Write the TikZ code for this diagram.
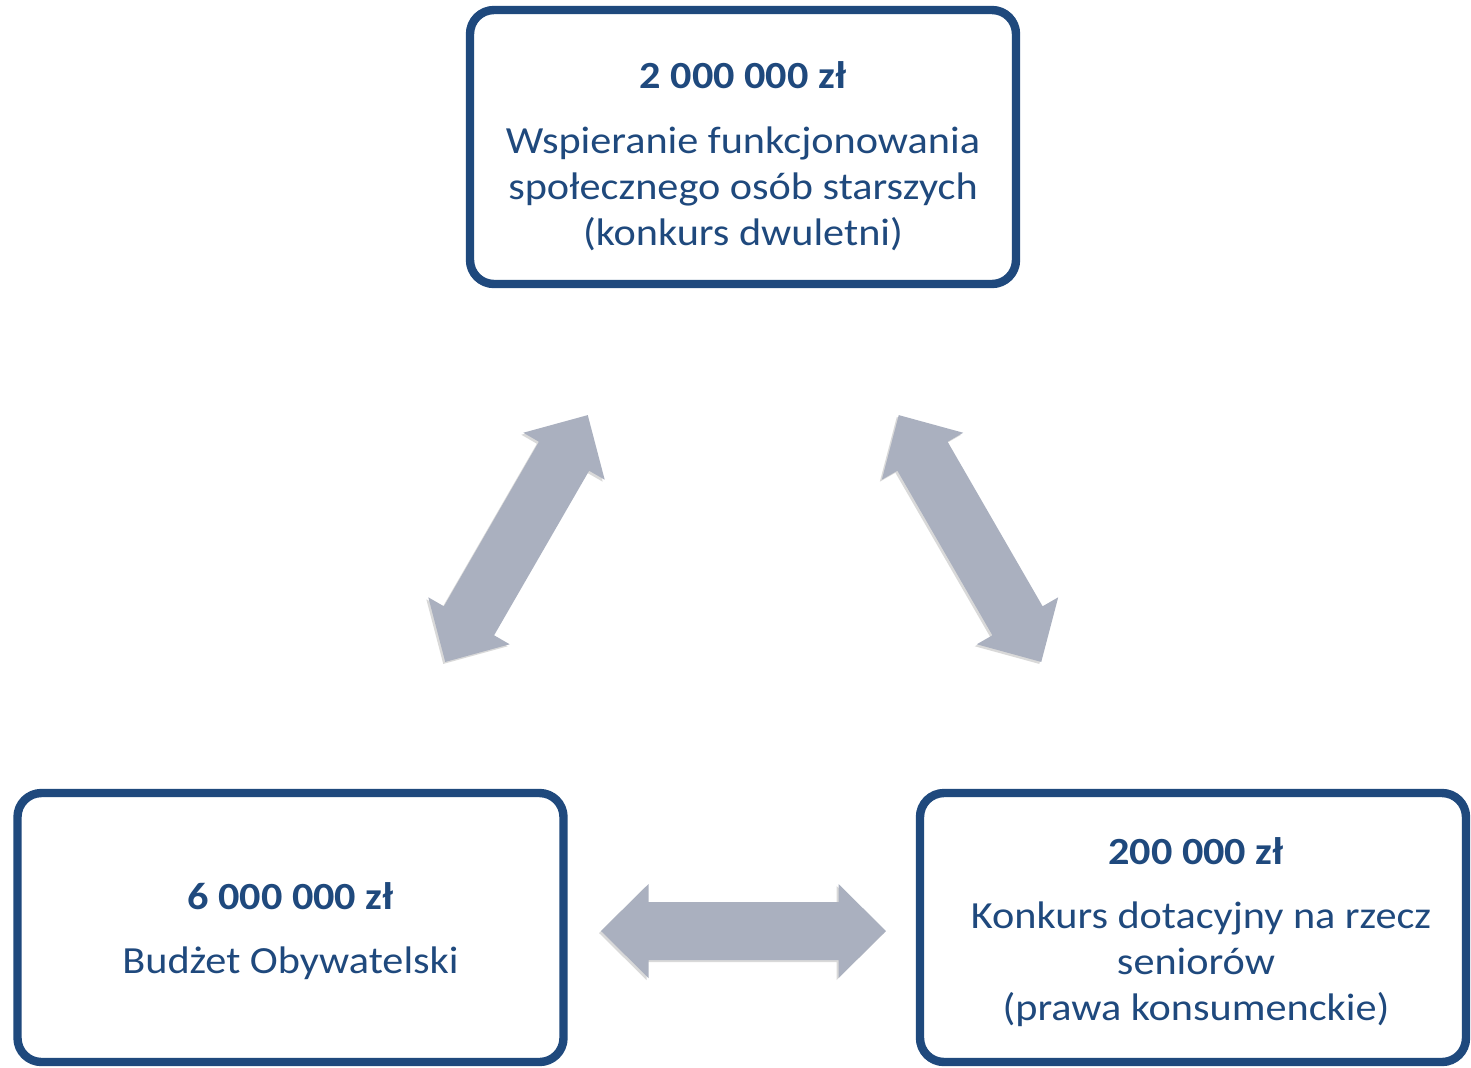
\documentclass[tikz,border=0pt]{standalone}
\usepackage{fontspec}
\setmainfont[FakeStretch=1.1]{Carlito}
\usetikzlibrary{shadows}
\definecolor{navy}{HTML}{1F497D}
\definecolor{arrowgray}{HTML}{AAB0BF}
\begin{document}
\begin{tikzpicture}[x=0.5pt,y=-0.5pt,
  panel/.style={draw=navy, line width=4.2pt, rounded corners=12pt, fill=white,
    inner sep=0pt, minimum width=273pt,
    drop shadow={shadow xshift=-1pt, shadow yshift=-1.5pt, opacity=0.18, fill=black}},
  amount/.style={anchor=base, font=\fontsize{19.2}{23}\selectfont\bfseries, text=navy, inner sep=0pt},
  desc/.style={anchor=base, font=\fontsize{19.2}{23}\selectfont, text=navy, inner sep=0pt},
  arrowbody/.style={fill=arrowgray,
    drop shadow={shadow xshift=-1pt, shadow yshift=-1pt, opacity=0.15, fill=black}},
  dblarrow/.pic={
    \fill[arrowbody] (-142.5,0) -- (-95,-47) -- (-95,-29) -- (95,-29) -- (95,-47)
      -- (142.5,0) -- (95,47) -- (95,29) -- (-95,29) -- (-95,47) -- cycle;
  }]
\useasboundingbox (0,0) rectangle (1471,1067);

% panels
\node[panel, minimum height=137pt] (top) at (743,147) {};
\node[panel, minimum height=134.5pt] (left) at (290.5,927.5) {};
\node[panel, minimum height=134.5pt] (right) at (1193,927.5) {};

% top panel text
\node[amount] (topamt) at (743,88) {2 000 000 zł};
\node[desc] (topl1) at (743,153) {Wspieranie funkcjonowania};
\node[desc] (topl2) at (743,199) {społecznego osób starszych};
\node[desc] (topl3) at (743,245) {(konkurs dwuletni)};

% left panel text
\node[amount] (leftamt) at (290.5,909) {6 000 000 zł};
\node[desc] (leftl1) at (290.5,973) {Budżet Obywatelski};

% right panel text
\node[amount] (rightamt) at (1196,864) {200 000 zł};
\node[desc] (rightl1) at (1201,928) {Konkurs dotacyjny na rzecz};
\node[desc] (rightl2) at (1196,974) {seniorów};
\node[desc] (rightl3) at (1196,1020) {(prawa konsumenckie)};

% block arrows
\pic[rotate=60] (arrowTL) at (516.5,538.5) {dblarrow};
\pic[rotate=-60] (arrowTR) at (970,538.5) {dblarrow};
\pic (arrowLR) at (743.5,931) {dblarrow};
\end{tikzpicture}
\end{document}
